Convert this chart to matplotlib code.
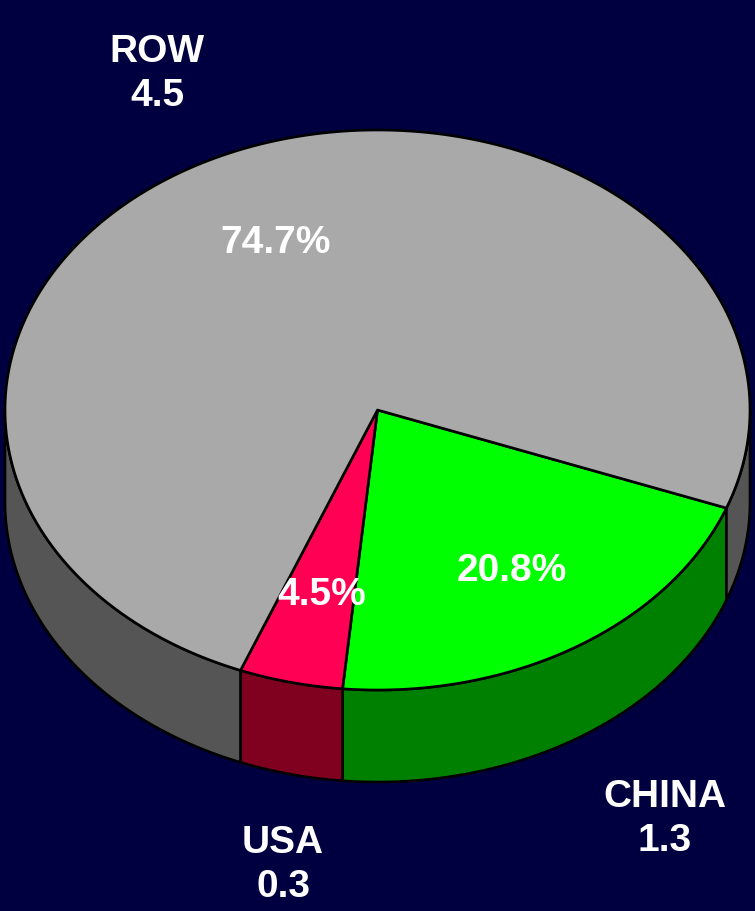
import numpy as np
import matplotlib

matplotlib.use("Agg")
import matplotlib.pyplot as plt
from matplotlib.patches import Polygon

# data
regions = ["CHINA", "USA", "ROW"]
values = [1.3, 0.3, 4.5]
shares = [20.8, 4.5, 74.7]

top_colors = ["#00FF00", "#FF0055", "#A9A9A9"]
side_colors = ["#008000", "#800020", "#555555"]
bg = "#000040"

# layout (pixel space)
W, H = 755, 911
cx, cy = 377.5, 410.0
rx, ry = 372.5, 280.0
depth = 92.0
start_angle = -20.5  # first slice starts here and runs clockwise

name_pos = [(665, 819), (283, 865), (157, 74)]
pct_pos = [(512, 571), (322, 595), (276, 243)]


def arc(t0, t1, dy=0.0, n=200):
    t = np.deg2rad(np.linspace(t0, t1, n))
    return np.column_stack([cx + rx * np.cos(t), cy - ry * np.sin(t) + dy])


fig = plt.figure(figsize=(W / 100, H / 100), dpi=100, facecolor=bg)
ax = fig.add_axes([0, 0, 1, 1])
ax.set_xlim(0, W)
ax.set_ylim(H, 0)
ax.axis("off")
ax.set_facecolor(bg)

# slice angles (parametric, counterclockwise lo -> hi)
spans = np.array(shares) / np.sum(shares) * 360.0
hi = start_angle - np.concatenate([[0], np.cumsum(spans)[:-1]])
lo = hi - spans

edge = dict(edgecolor="black", linewidth=1.9, joinstyle="round")

# front side walls
for i in range(len(regions)):
    for k in (-1, 0, 1):
        f0, f1 = -180 + 360 * k, 0 + 360 * k
        a, b = max(lo[i], f0), min(hi[i], f1)
        if b - a <= 0:
            continue
        pts = np.vstack([arc(a, b), arc(b, a, dy=depth)])
        ax.add_patch(Polygon(pts, closed=True, facecolor=side_colors[i], **edge))

# top faces
for i in range(len(regions)):
    pts = np.vstack([[cx, cy], arc(lo[i], hi[i])])
    ax.add_patch(Polygon(pts, closed=True, facecolor=top_colors[i], **edge))

font = dict(color="white", fontsize=28, fontweight="bold",
            family=["Liberation Sans", "DejaVu Sans"], ha="center", va="center")
for i in range(len(regions)):
    ax.text(*name_pos[i], f"{regions[i]}\n{values[i]:.1f}", linespacing=1.32, **font)
    ax.text(*pct_pos[i], f"{shares[i]:.1f}%", **font)

fig.savefig("out.png", dpi=100, facecolor=bg)
